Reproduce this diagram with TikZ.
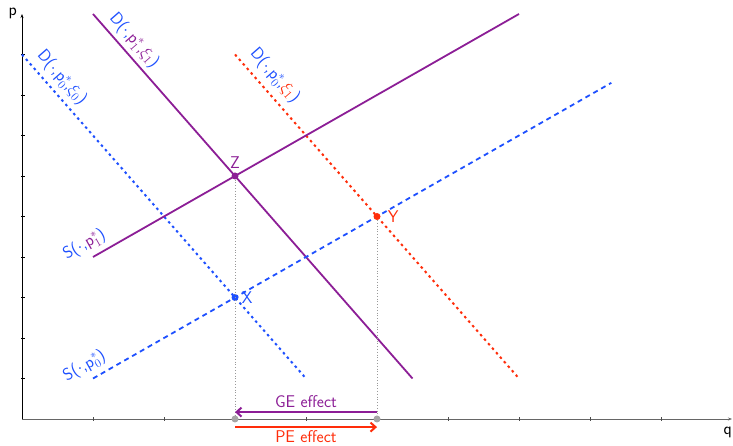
\documentclass[tikz,border=0pt]{standalone}
\usepackage{amsmath}
\usepackage{xcolor}
\usepackage{tikz}
\usetikzlibrary{positioning, arrows.meta}

\definecolor{supblue}{RGB}{30,80,255}
\definecolor{effred}{RGB}{255,45,10}
\definecolor{genpurple}{RGB}{140,30,150}

\begin{document}
\begin{tikzpicture}[
        x=71pt, y=40.5pt,
        axis/.style={-{Stealth[length=4pt,width=3pt]}, line width=0.7pt},
        solidline/.style={line width=1.8pt},
        dotline/.style={line width=2pt, dash pattern=on 2.5pt off 3.5pt},
        dashline/.style={line width=1.8pt, dash pattern=on 5pt off 4pt},
        guide/.style={gray!80, dotted, line width=0.8pt},
        lbl/.style={font=\sffamily\fontsize{17}{20}\selectfont, inner sep=1pt},
        dot/.style={circle, fill, inner sep=0pt, minimum size=7pt},
        effect/.style={line width=2pt, -{Straight Barb[length=5pt,width=9pt]}},
    ]
        \useasboundingbox (-22pt,-27pt) rectangle (711pt,419pt);

        % Axes
        \coordinate (origin) at (0,0);
        \coordinate (qend) at (10,0);
        \coordinate (pend) at (0,10);
        \draw[axis, black!60] (origin) -- (qend);
        \draw[axis] (origin) -- (pend);
        \foreach \i in {1,...,9} {
            \draw[black!70, line width=0.7pt] (\i,-2pt) -- (\i,2pt);
            \draw[line width=0.7pt] (-1pt,\i) -- (3pt,\i);
        }
        \node[lbl] (plabel) at (-0.13,10.02) {p};
        \node[lbl] (qlabel) at (9.94,-0.32) {q};

        % Demand curves
        \coordinate (dA0) at (0,9);   \coordinate (dB0) at (4,1);
        \coordinate (dA1) at (1,10);  \coordinate (dB1) at (5.5,1);
        \coordinate (dAr) at (3,9);   \coordinate (dBr) at (7,1);
        \draw[dotline, supblue] (dA0) -- (dB0);
        \draw[solidline, genpurple] (dA1) -- (dB1);
        \draw[dotline, effred] (dAr) -- (dBr);

        % Supply curves
        \coordinate (sA0) at (1,1);   \coordinate (sB0) at (8.3,8.3);
        \coordinate (sA1) at (1,4);   \coordinate (sB1) at (7,10);
        \draw[dashline, supblue] (sA0) -- (sB0);
        \draw[solidline, genpurple] (sA1) -- (sB1);

        % Curve labels
        \node[lbl, text=supblue, rotate=-48.8] (dlab0) at (0.56,8.42)
            {D($\cdot$,p$_0^*$,$\xi_0$)};
        \node[lbl, text=supblue, rotate=-48.8] (dlab1) at (1.58,9.34)
            {D($\cdot$,\textcolor{genpurple}{p$_1^*$,$\xi_1$})};
        \node[lbl, text=supblue, rotate=-48.8] (dlabr) at (3.56,8.47)
            {D($\cdot$,p$_0^*$,\textcolor{effred}{$\xi_1$})};
        \node[lbl, text=supblue, rotate=29.7] (slab1) at (0.88,4.3)
            {S($\cdot$,\textcolor{genpurple}{p$_1^*$})};
        \node[lbl, text=supblue, rotate=29.7] (slab0) at (0.88,1.3)
            {S($\cdot$,p$_0^*$)};

        % Equilibria
        \node[dot, genpurple] (ptZ) at (3,6) {};
        \node[dot, supblue] (ptX) at (3,3) {};
        \node[dot, effred] (ptY) at (5,5) {};
        \node[lbl, text=genpurple, above=3pt of ptZ] (labZ) {Z};
        \node[lbl, text=supblue, right=2pt of ptX] (labX) {X};
        \node[lbl, text=effred, right=6pt of ptY] (labY) {Y};

        % Guides to the q axis
        \node[dot, gray!70] (baseL) at (3,0) {};
        \node[dot, gray!70] (baseR) at (5,0) {};
        \draw[guide] (ptZ) -- (baseL);
        \draw[guide] (ptY) -- (baseR);

        % Effects
        \coordinate (geR) at (5,0.17);  \coordinate (geL) at (3,0.17);
        \coordinate (peL) at (3,-0.2);  \coordinate (peR) at (5,-0.2);
        \draw[effect, genpurple] (geR) -- node[lbl, above=2pt] (geText) {GE effect} (geL);
        \draw[effect, effred] (peL) -- node[lbl, below=1pt] (peText) {PE effect} (peR);

    \end{tikzpicture}
\end{document}
